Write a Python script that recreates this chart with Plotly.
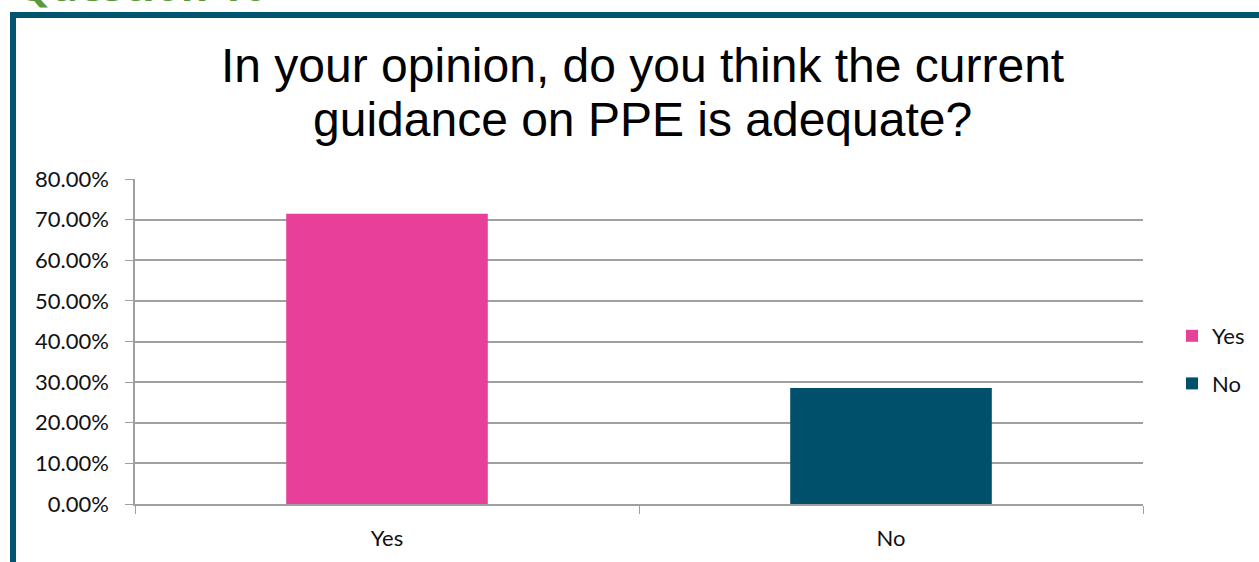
import plotly.graph_objects as go

categories = ["Yes", "No"]
values = [0.7143, 0.2857]
colors = ["#E8409A", "#004F6B"]
y_ticks = [0, 0.1, 0.2, 0.3, 0.4, 0.5, 0.6, 0.7, 0.8]
y_tick_labels = ["0.00%", "10.00%", "20.00%", "30.00%", "40.00%", "50.00%", "60.00%", "70.00%", "80.00%"]
title_lines = ["In your opinion, do you think the current", "guidance on PPE is adequate?"]
header_text = "Question 10"

W, H = 1259, 562
L, R, T, B = 135, 116, 179, 58
pw, ph = W - L - R, H - T - B

def px_x(x):
    return (x - L) / pw

def px_y(y):
    return (H - B - y) / ph

fig = go.Figure()
for i, (c, v, col) in enumerate(zip(categories, values, colors)):
    fig.add_trace(go.Bar(x=[c], y=[v], name=c, legendgroup="g%d" % i,
                         marker=dict(color=col, line=dict(width=0)),
                         width=0.4, offset=-0.2))

font_main = "Lato, 'Open Sans', Arial, sans-serif"

fig.update_layout(
    width=W, height=H,
    margin=dict(l=L, r=R, t=T, b=B),
    paper_bgcolor="white", plot_bgcolor="white",
    showlegend=True,
    barmode="overlay",
    legend=dict(xref="container", yref="container",
                x=1172 / W, y=1 - 315 / H, xanchor="left", yanchor="top",
                font=dict(family=font_main, size=22, color="#111"),
                traceorder="grouped", tracegroupgap=16,
                bgcolor="rgba(0,0,0,0)"),
    xaxis=dict(type="category", categoryorder="array", categoryarray=categories,
               range=[-0.5, 1.5], showline=True, linecolor="#A0A0A0", linewidth=1.5,
               ticks="outside", tickson="boundaries", ticklen=8, tickcolor="#A0A0A0",
               ticklabelstandoff=14,
               tickfont=dict(family=font_main, size=22, color="#111"), showgrid=False,
               zeroline=False),
    yaxis=dict(range=[0, 0.8], tickvals=y_ticks, ticktext=y_tick_labels,
               showline=True, linecolor="#A0A0A0", linewidth=1.5,
               ticks="outside", ticklen=8, tickcolor="#A0A0A0",
               ticklabelstandoff=12,
               showgrid=True, gridcolor="#A0A0A0", gridwidth=1.5, zeroline=False,
               tickfont=dict(family=font_main, size=22, color="#111")),
)

# outer frame (slide border)
fig.add_shape(type="rect", xref="paper", yref="paper",
              x0=px_x(13), x1=px_x(W + 20), y0=px_y(H + 20), y1=px_y(15),
              line=dict(color="#02546F", width=6), fillcolor="rgba(0,0,0,0)", layer="below")

# two-line chart title
for text, yc in zip(title_lines, [65, 120]):
    fig.add_annotation(text=text, xref="paper", yref="paper",
                       x=px_x(642), y=px_y(yc), xanchor="center", yanchor="middle",
                       showarrow=False,
                       font=dict(family="'Liberation Sans', Arial, sans-serif", size=48, color="#000"))

fig.add_annotation(text="<b>" + header_text + "</b>", xref="paper", yref="paper",
                   x=px_x(15), y=px_y(15), xanchor="left", yanchor="bottom",
                   showarrow=False,
                   font=dict(family="'Open Sans', Arial, sans-serif", size=42, color="#5B9A3C"))

fig.write_html("out.html", config={"displayModeBar": False},
               post_script="document.body.style.margin='0';")
